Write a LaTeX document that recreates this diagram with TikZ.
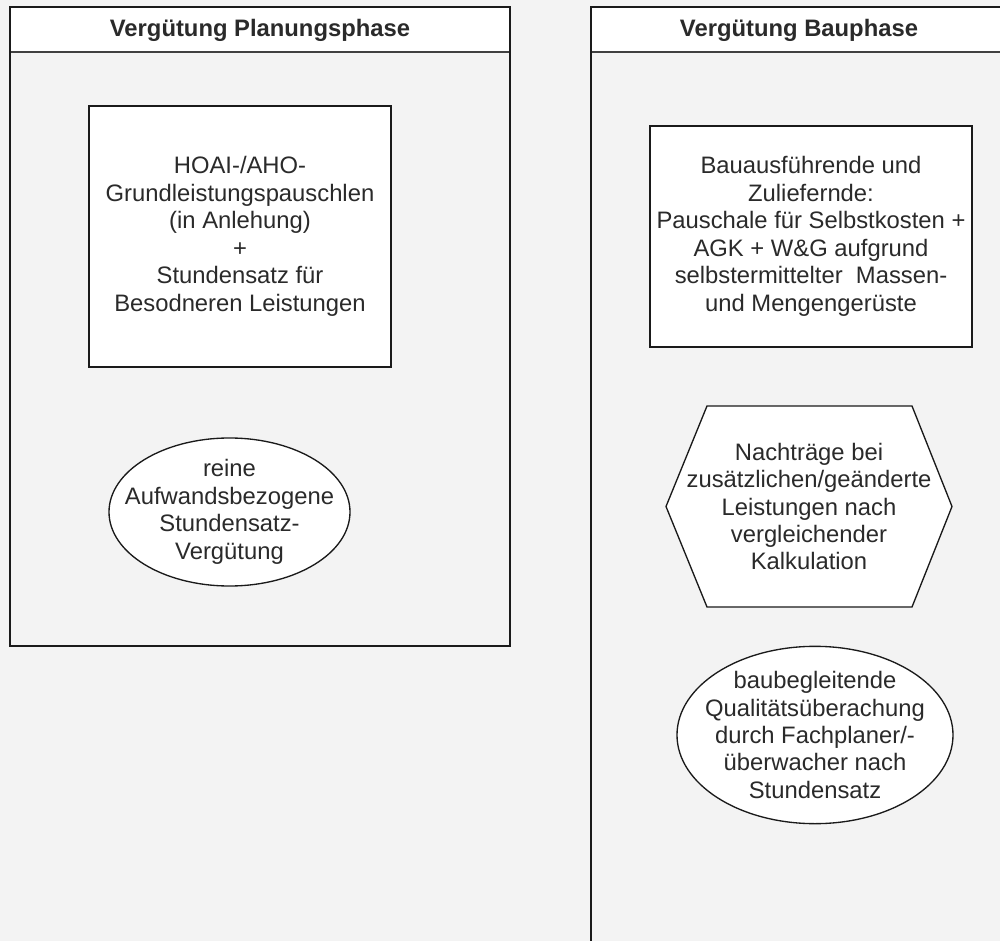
\documentclass[tikz,border=0pt]{standalone}
\usepackage{fontspec}
\setmainfont{Liberation Sans}
\usetikzlibrary{shapes.geometric}
\definecolor{bg}{HTML}{F3F3F3}
\definecolor{ink}{HTML}{1A1A1A}
\definecolor{txtc}{HTML}{2A2A2A}
\definecolor{sepc}{HTML}{404040}
\begin{document}
\begin{tikzpicture}[x=0.75pt,y=-0.75pt,
  panel/.style={draw=ink,line width=1pt},
  sepline/.style={draw=sepc,line width=1.6pt},
  txt/.style={text=txtc,align=center,inner sep=0pt,font=\fontsize{17.85}{20.6}\selectfont},
  headtxt/.style={txt,font=\fontsize{17.85}{20.6}\selectfont\bfseries},
  box/.style={draw=ink,fill=white,line width=1pt,rectangle,inner sep=0pt},
  oval/.style={draw=ink,fill=white,line width=1pt,ellipse,inner sep=0pt}
]
\useasboundingbox[fill=bg] (0,0) rectangle (1000,941);
% left panel
\fill[white] (10,7) rectangle (510,52);
\draw[sepline] (10,52) -- (510,52);
\draw[panel] (10,7) rectangle (510,646);
\node[headtxt] (h1) at (260,30) {Vergütung Planungsphase};
% right panel
\fill[white] (591,7) rectangle (1010,52);
\draw[sepline] (591,52) -- (1010,52);
\draw[panel] (1010,7) -- (591,7) -- (591,945);
\node[headtxt] (h2) at (799,30) {Vergütung Bauphase};
% left rectangle
\node[box,minimum width=226.5pt,minimum height=195.75pt] (r1) at (240,236.5) {};
\node[txt] (t1) at (r1.center) {HOAI-/AHO-\\Grundleistungspauschlen\\(in Anlehung)\\+\\Stundensatz für\\Besodneren Leistungen};
% left ellipse
\node[oval,minimum width=180.75pt,minimum height=111pt] (e1) at (229.5,512) {};
\node[txt] (t2) at (e1.center) {reine\\Aufwandsbezogene\\Stundensatz-\\Vergütung};
% right rectangle
\node[box,minimum width=241.5pt,minimum height=165.75pt] (r2) at (811,236.5) {};
\node[txt] (t3) at (r2.center) {Bauausführende und\\Zuliefernde:\\Pauschale für Selbstkosten +\\AGK + W\&G aufgrund\\selbstermittelter\ \ Massen-\\und Mengengerüste};
% hexagon
\coordinate (hx) at (809,506.5);
\draw[draw=ink,fill=white,line width=1pt] (707,406) -- (912,406) -- (952,506.5) -- (912,607) -- (707,607) -- (666,506.5) -- cycle;
\node[txt] (t4) at (hx) {Nachträge bei\\zusätzlichen/geänderte\\Leistungen nach\\vergleichender\\Kalkulation};
% right ellipse
\node[oval,minimum width=207pt,minimum height=133pt] (e2) at (815,735) {};
\node[txt] (t5) at (e2.center) {baubegleitende\\Qualitätsüberachung\\durch Fachplaner/-\\überwacher nach\\Stundensatz};
\end{tikzpicture}
\end{document}
